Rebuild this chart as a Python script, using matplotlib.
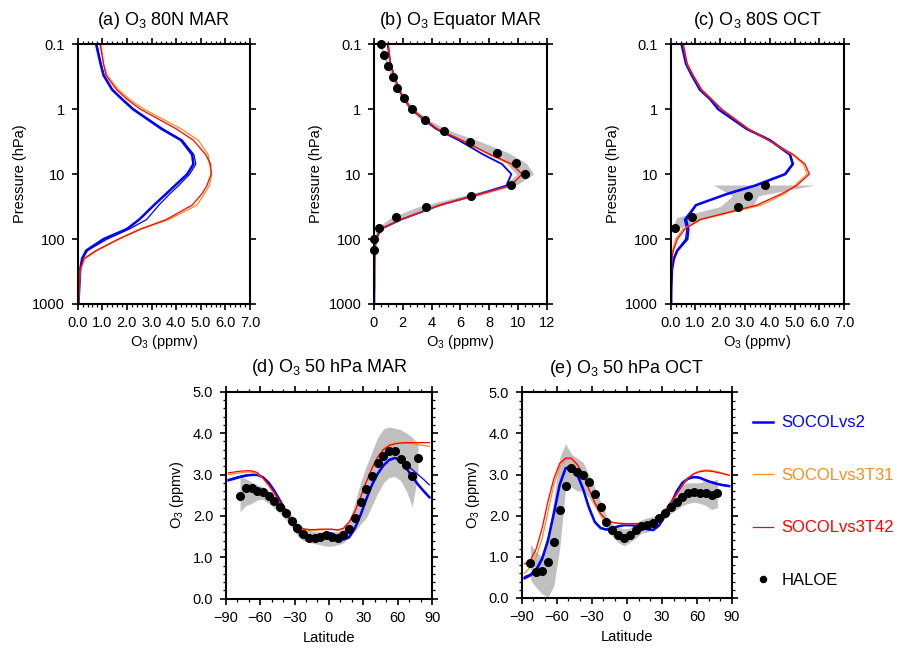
import matplotlib
matplotlib.use("Agg")
import matplotlib.pyplot as plt
from matplotlib.ticker import MultipleLocator, FixedLocator, NullLocator

plt.rcParams['font.family'] = ['Liberation Sans', 'DejaVu Sans']
plt.rcParams['mathtext.fontset'] = 'custom'
plt.rcParams['mathtext.rm'] = 'Liberation Sans'
plt.rcParams['mathtext.it'] = 'Liberation Sans:italic'

BLUE = "#0000FF"
ORANGE = "#FF8C1A"
RED = "#FF0000"
GREY = "#C0C0C0"

# ---- vertical profiles (model levels, hPa) ----
plev = [0.1, 0.2, 0.3, 0.5, 0.7, 1, 2, 3, 5, 7, 10, 15, 20, 30, 50, 70, 100, 150, 200, 300, 500, 700, 1000]

# (a) 80N MAR
a_v2 = [0.75, 0.93, 1.05, 1.4, 1.8, 2.25, 3.4, 4.2, 4.65, 4.7, 4.45, 3.95, 3.6, 3.1, 2.5, 2.0, 1.05, 0.35, 0.18, 0.1, 0.07, 0.05, 0.03]
a_v2b = [0.78, 0.95, 1.07, 1.42, 1.82, 2.28, 3.45, 4.25, 4.72, 4.8, 4.55, 4.1, 3.75, 3.3, 2.8, 2.1, 1.2, 0.4, 0.2, 0.1, 0.07, 0.05, 0.03]
a_t31 = [0.95, 1.05, 1.2, 1.65, 2.1, 2.7, 4.2, 4.9, 5.3, 5.35, 5.45, 5.35, 5.15, 4.85, 3.7, 2.6, 1.7, 0.8, 0.3, 0.1, 0.07, 0.05, 0.03]
a_t42 = [0.91, 1.05, 1.15, 1.58, 2.0, 2.55, 4.0, 4.7, 5.2, 5.4, 5.42, 5.25, 5.05, 4.65, 3.6, 2.55, 1.65, 0.75, 0.25, 0.1, 0.07, 0.05, 0.03]

# (b) Equator MAR
b_v2 = [0.95, 1.15, 1.4, 1.75, 2.1, 2.6, 4.3, 5.9, 7.6, 8.9, 9.55, 9.2, 7.4, 4.6, 1.9, 0.5, 0.15, 0.06, 0.05, 0.04, 0.04, 0.03, 0.03]
b_t31 = [1.0, 1.15, 1.4, 1.75, 2.1, 2.6, 4.4, 6.1, 8.0, 9.5, 10.3, 9.5, 7.5, 4.6, 1.8, 0.45, 0.12, 0.06, 0.05, 0.04, 0.04, 0.03, 0.03]
b_t42 = [1.0, 1.15, 1.4, 1.75, 2.1, 2.6, 4.4, 6.1, 8.1, 9.6, 10.3, 9.5, 7.5, 4.6, 1.8, 0.45, 0.12, 0.06, 0.05, 0.04, 0.04, 0.03, 0.03]

# (c) 80S OCT
c_v2 = [0.44, 0.62, 0.85, 1.18, 1.59, 1.92, 3.06, 4.0, 4.81, 4.92, 4.61, 3.4, 2.3, 1.02, 0.62, 0.71, 0.67, 0.27, 0.13, 0.05, 0.03, 0.02, 0.02]
c_v2b = [0.45, 0.63, 0.86, 1.2, 1.6, 1.94, 3.08, 4.02, 4.83, 4.95, 4.65, 3.45, 2.35, 1.0, 0.55, 0.65, 0.6, 0.25, 0.12, 0.05, 0.03, 0.02, 0.02]
c_t31 = [0.5, 0.66, 0.9, 1.24, 1.64, 2.05, 3.12, 3.95, 4.9, 5.35, 5.5, 5.0, 4.6, 3.65, 1.25, 0.5, 0.2, 0.08, 0.04, 0.03, 0.02, 0.02, 0.02]
c_t42 = [0.51, 0.67, 0.91, 1.25, 1.65, 2.06, 3.13, 3.94, 4.95, 5.42, 5.59, 5.08, 4.48, 3.47, 1.18, 0.58, 0.27, 0.11, 0.05, 0.03, 0.02, 0.02, 0.02]

# HALOE profiles
haloe_plev_b = [0.1, 0.147, 0.215, 0.316, 0.464, 0.681, 1, 1.47, 2.15, 3.16, 4.64, 6.81, 10, 14.7, 21.5, 31.6, 46.4, 68.1, 100, 147]
haloe_b = [0.46, 0.69, 1.0, 1.3, 1.6, 2.06, 2.64, 3.52, 4.88, 6.67, 8.52, 9.9, 10.53, 9.49, 6.74, 3.59, 1.53, 0.32, 0.02, 0.02]
haloe_b_lo = [0.4, 0.6, 0.9, 1.2, 1.5, 1.9, 2.45, 3.25, 4.45, 6.0, 7.8, 9.2, 9.9, 9.1, 6.2, 3.1, 1.2, 0.2, 0.0, 0.0]
haloe_b_hi = [0.52, 0.78, 1.1, 1.4, 1.72, 2.2, 2.85, 3.8, 5.3, 7.4, 9.3, 10.6, 11.1, 9.9, 7.3, 4.1, 1.85, 0.5, 0.05, 0.04]

haloe_plev_c = [14.7, 21.5, 31.6, 46.4, 68.1]
haloe_c = [3.80, 3.10, 2.71, 0.86, 0.16]
haloe_c_lo = [1.72, 2.5, 2.0, 0.25, 0.04]
haloe_c_hi = [5.82, 3.55, 3.3, 1.45, 0.35]

# ---- 50 hPa latitude sections ----
mlat = [-87.5, -82.5, -77.5, -72.5, -67.5, -62.5, -57.5, -52.5, -47.5, -42.5, -37.5, -32.5,
        -27.5, -22.5, -17.5, -12.5, -7.5, -2.5, 2.5, 7.5, 12.5, 17.5, 22.5, 27.5,
        32.5, 37.5, 42.5, 47.5, 52.5, 57.5, 62.5, 67.5, 72.5, 77.5, 82.5, 87.5]

d_v2 = [2.86, 2.9, 2.94, 2.97, 2.99, 2.99, 2.93, 2.8, 2.6, 2.36, 2.1, 1.85,
        1.63, 1.5, 1.44, 1.44, 1.5, 1.6, 1.57, 1.47, 1.43, 1.48, 1.7, 2.02,
        2.4, 2.75, 3.02, 3.22, 3.35, 3.4, 3.33, 3.15, 2.95, 2.76, 2.6, 2.45]
d_v2b = [2.88, 2.92, 2.96, 2.99, 3.0, 3.0, 2.94, 2.81, 2.61, 2.37, 2.11, 1.86,
         1.64, 1.51, 1.45, 1.45, 1.51, 1.61, 1.58, 1.48, 1.44, 1.49, 1.71, 2.03,
         2.41, 2.76, 3.03, 3.23, 3.36, 3.41, 3.36, 3.25, 3.12, 3.0, 2.88, 2.75]
d_t31 = [3.0, 3.02, 3.04, 3.06, 3.06, 3.03, 2.9, 2.73, 2.53, 2.31, 2.08, 1.88,
         1.74, 1.67, 1.65, 1.65, 1.66, 1.67, 1.67, 1.65, 1.69, 1.84, 2.09, 2.45,
         2.83, 3.17, 3.44, 3.62, 3.72, 3.76, 3.77, 3.76, 3.74, 3.72, 3.7, 3.68]
d_t42 = [3.04, 3.06, 3.08, 3.09, 3.09, 3.05, 2.92, 2.75, 2.55, 2.33, 2.1, 1.9,
         1.76, 1.69, 1.67, 1.67, 1.68, 1.68, 1.68, 1.66, 1.7, 1.85, 2.1, 2.45,
         2.82, 3.15, 3.42, 3.6, 3.7, 3.74, 3.76, 3.77, 3.77, 3.77, 3.77, 3.77]

e_v2 = [0.48, 0.55, 0.68, 0.95, 1.4, 2.05, 2.75, 3.15, 3.2, 3.0, 2.65, 2.2,
        1.85, 1.7, 1.66, 1.69, 1.74, 1.77, 1.77, 1.76, 1.72, 1.67, 1.65, 1.76,
        2.0, 2.27, 2.58, 2.8, 2.9, 2.94, 2.92, 2.86, 2.81, 2.77, 2.74, 2.72]
e_v2b = [0.52, 0.58, 0.72, 0.98, 1.43, 2.08, 2.77, 3.16, 3.21, 3.01, 2.66, 2.21,
         1.86, 1.71, 1.67, 1.7, 1.75, 1.78, 1.78, 1.77, 1.73, 1.68, 1.66, 1.77,
         2.01, 2.28, 2.59, 2.81, 2.91, 2.95, 2.93, 2.87, 2.82, 2.78, 2.75, 2.73]
e_t31 = [0.6, 0.75, 1.0, 1.45, 2.1, 2.75, 3.18, 3.37, 3.38, 3.23, 2.98, 2.64,
         2.31, 2.04, 1.89, 1.83, 1.81, 1.8, 1.8, 1.8, 1.8, 1.8, 1.82, 1.93,
         2.11, 2.31, 2.52, 2.74, 2.93, 3.03, 3.09, 3.11, 3.1, 3.07, 3.03, 2.99]
e_t42 = [0.83, 0.92, 1.2, 1.7, 2.35, 2.9, 3.27, 3.4, 3.4, 3.25, 3.0, 2.65,
         2.32, 2.05, 1.9, 1.84, 1.82, 1.81, 1.81, 1.81, 1.81, 1.81, 1.83, 1.94,
         2.12, 2.32, 2.52, 2.73, 2.92, 3.02, 3.07, 3.09, 3.08, 3.05, 3.02, 2.98]

hlat_d = [-77.5, -72.5, -67.5, -62.5, -57.5, -52.5, -47.5, -42.5, -37.5, -32.5, -27.5,
          -22.5, -17.5, -12.5, -7.5, -2.5, 2.5, 7.5, 12.5, 17.5, 22.5, 27.5, 32.5,
          37.5, 42.5, 47.5, 52.5, 57.5, 62.5, 67.5, 72.5, 77.5]
haloe_d = [2.48, 2.67, 2.67, 2.6, 2.57, 2.48, 2.35, 2.22, 2.06, 1.87, 1.7,
           1.57, 1.47, 1.47, 1.5, 1.53, 1.5, 1.47, 1.53, 1.68, 1.96, 2.33, 2.64,
           2.96, 3.27, 3.45, 3.57, 3.57, 3.38, 3.24, 2.96, 3.41]
haloe_d_lo = [2.1, 2.25, 2.3, 2.38, 2.4, 2.3, 2.18, 2.05, 1.9, 1.72, 1.52,
              1.4, 1.36, 1.33, 1.3, 1.27, 1.27, 1.3, 1.35, 1.48, 1.62, 1.8, 1.95,
              2.25, 2.55, 2.8, 2.93, 2.95, 2.85, 2.6, 2.22, 3.0]
haloe_d_hi = [2.95, 2.9, 2.82, 2.75, 2.7, 2.6, 2.5, 2.38, 2.2, 2.02, 1.85,
              1.72, 1.66, 1.62, 1.62, 1.62, 1.62, 1.62, 1.7, 1.9, 2.3, 2.8, 3.2,
              3.55, 3.9, 4.1, 4.15, 4.12, 4.08, 4.0, 3.9, 3.75]

hlat_e = [-82.5, -77.5, -72.5, -67.5, -62.5, -57.5, -52.5, -47.5, -42.5, -37.5, -32.5,
          -27.5, -22.5, -17.5, -12.5, -7.5, -2.5, 2.5, 7.5, 12.5, 17.5, 22.5, 27.5,
          32.5, 37.5, 42.5, 47.5, 52.5, 57.5, 62.5, 67.5, 72.5, 77.5]
haloe_e = [0.85, 0.64, 0.65, 0.88, 1.37, 2.15, 2.71, 3.17, 3.06, 2.99, 2.81,
           2.53, 2.22, 1.85, 1.65, 1.53, 1.47, 1.53, 1.65, 1.75, 1.77, 1.83, 1.94,
           2.07, 2.2, 2.34, 2.45, 2.54, 2.57, 2.54, 2.56, 2.51, 2.54]
haloe_e_lo = [0.45, 0.25, 0.1, 0.02, 0.3, 1.2, 2.65, 2.7, 2.6, 2.6, 2.45,
              2.2, 1.95, 1.7, 1.5, 1.35, 1.27, 1.35, 1.45, 1.58, 1.6, 1.68, 1.78,
              1.92, 2.05, 2.15, 2.25, 2.3, 2.33, 2.3, 2.25, 2.15, 2.2]
haloe_e_hi = [1.3, 1.12, 1.0, 1.5, 2.4, 3.4, 3.75, 3.5, 3.4, 3.3, 3.0,
              2.7, 2.35, 2.0, 1.8, 1.72, 1.68, 1.7, 1.8, 1.9, 1.95, 1.98, 2.05,
              2.2, 2.4, 2.6, 2.75, 2.8, 2.8, 2.8, 2.85, 2.85, 2.88]

O3 = r"O$_\mathregular{3}$"

fig = plt.figure(figsize=(8.97, 6.48), dpi=100)


def style_axes(ax):
    for s in ax.spines.values():
        s.set_linewidth(1.5)
    ax.tick_params(which='both', direction='out', top=True, right=True, labelsize=10.5,
                   width=1.2, pad=5)
    ax.tick_params(which='major', length=4)
    ax.tick_params(which='minor', length=2.2, width=0.9)


def profile_panel(rect, title, xmax, xmajor, xminor, xfmt):
    ax = fig.add_axes(rect)
    ax.set_yscale('log')
    ax.set_ylim(1000, 0.1)
    ax.set_xlim(0, xmax)
    ax.yaxis.set_major_locator(FixedLocator([0.1, 1, 10, 100, 1000]))
    ax.yaxis.set_minor_locator(NullLocator())
    ax.set_yticklabels(["0.1", "1", "10", "100", "1000"])
    ax.xaxis.set_major_locator(MultipleLocator(xmajor))
    ax.xaxis.set_minor_locator(MultipleLocator(xminor))
    ax.xaxis.set_major_formatter(xfmt)
    ax.set_ylabel("Pressure (hPa)", fontsize=10.5, labelpad=4)
    ax.set_xlabel(O3 + " (ppmv)", fontsize=10.5, labelpad=2)
    ax.set_title(title, fontsize=13, pad=14)
    style_axes(ax)
    return ax


fmt1 = matplotlib.ticker.FormatStrFormatter("%.1f")
fmt0 = matplotlib.ticker.FormatStrFormatter("%d")

# (a)
ax = profile_panel([0.0866, 0.5309, 0.1921, 0.4007], "(a) " + O3 + " 80N MAR", 7, 1, 0.2, fmt1)
ax.plot(a_v2b, plev, color=BLUE, lw=0.9)
ax.plot(a_v2, plev, color=BLUE, lw=1.8)
ax.plot(a_t31, plev, color=ORANGE, lw=0.9)
ax.plot(a_t42, plev, color=RED, lw=0.9)

# (b)
ax = profile_panel([0.4169, 0.5309, 0.1925, 0.4007], "(b) " + O3 + " Equator MAR", 12, 2, 0.5, fmt0)
ax.fill_betweenx(haloe_plev_b, haloe_b_lo, haloe_b_hi, color=GREY, lw=0)
ax.plot(b_v2, plev, color=BLUE, lw=1.3)
ax.plot(b_t31, plev, color=ORANGE, lw=0.9)
ax.plot(b_t42, plev, color=RED, lw=0.9)
ax.plot(haloe_b, haloe_plev_b, 'o', color='black', ms=5.5, clip_on=False)

# (c)
ax = profile_panel([0.7477, 0.5309, 0.1935, 0.4007], "(c) " + O3 + " 80S OCT", 7, 1, 0.2, fmt1)
ax.fill_betweenx(haloe_plev_c, haloe_c_lo, haloe_c_hi, color=GREY, lw=0)
ax.plot(c_v2b, plev, color=BLUE, lw=0.9)
ax.plot(c_v2, plev, color=BLUE, lw=1.8)
ax.plot(c_t31, plev, color=ORANGE, lw=0.9)
ax.plot(c_t42, plev, color=RED, lw=0.9)
ax.plot(haloe_c, haloe_plev_c, 'o', color='black', ms=5.5)


def lat_panel(rect, title):
    ax = fig.add_axes(rect)
    ax.set_xlim(-90, 90)
    ax.set_ylim(0, 5)
    ax.xaxis.set_major_locator(MultipleLocator(30))
    ax.xaxis.set_minor_locator(MultipleLocator(10))
    ax.yaxis.set_major_locator(MultipleLocator(1))
    ax.yaxis.set_minor_locator(MultipleLocator(0.2))
    ax.yaxis.set_major_formatter(fmt1)
    ax.set_xlabel("Latitude", fontsize=10.5, labelpad=4)
    ax.set_ylabel(O3 + " (ppmv)", fontsize=10.5, labelpad=5)
    ax.set_title(title, fontsize=13, pad=14)
    style_axes(ax)
    return ax


# (d)
ax = lat_panel([0.2516, 0.0761, 0.2303, 0.3194], "(d) " + O3 + " 50 hPa MAR")
ax.fill_between(hlat_d, haloe_d_lo, haloe_d_hi, color=GREY, lw=0)
ax.plot(mlat, d_v2b, color=BLUE, lw=0.9)
ax.plot(mlat, d_v2, color=BLUE, lw=1.8)
ax.plot(mlat, d_t31, color=ORANGE, lw=0.9)
ax.plot(mlat, d_t42, color=RED, lw=0.9)
ax.plot(hlat_d, haloe_d, 'o', color='black', ms=5.5)

# (e)
ax = lat_panel([0.5816, 0.0772, 0.2345, 0.3174], "(e) " + O3 + " 50 hPa OCT")
ax.fill_between(hlat_e, haloe_e_lo, haloe_e_hi, color=GREY, lw=0)
ax.plot(mlat, e_v2b, color=BLUE, lw=0.9)
h_v2, = ax.plot(mlat, e_v2, color=BLUE, lw=1.8)
h_t31, = ax.plot(mlat, e_t31, color=ORANGE, lw=0.9)
h_t42, = ax.plot(mlat, e_t42, color=RED, lw=0.9)
h_ha, = ax.plot(hlat_e, haloe_e, 'o', color='black', ms=5.5)

leg = fig.legend([h_v2, h_t31, h_t42, h_ha], ["SOCOLvs2", "SOCOLvs3T31", "SOCOLvs3T42", "HALOE"],
                 loc='upper left', bbox_to_anchor=(0.8395, 0.359), frameon=False,
                 fontsize=12, handlelength=1.2, handletextpad=0.5, labelspacing=2.25,
                 borderpad=0, borderaxespad=0, markerscale=0.8)
for t, c in zip(leg.get_texts(), [BLUE, ORANGE, RED, 'black']):
    t.set_color(c)

fig.savefig("out.png", dpi=100)
